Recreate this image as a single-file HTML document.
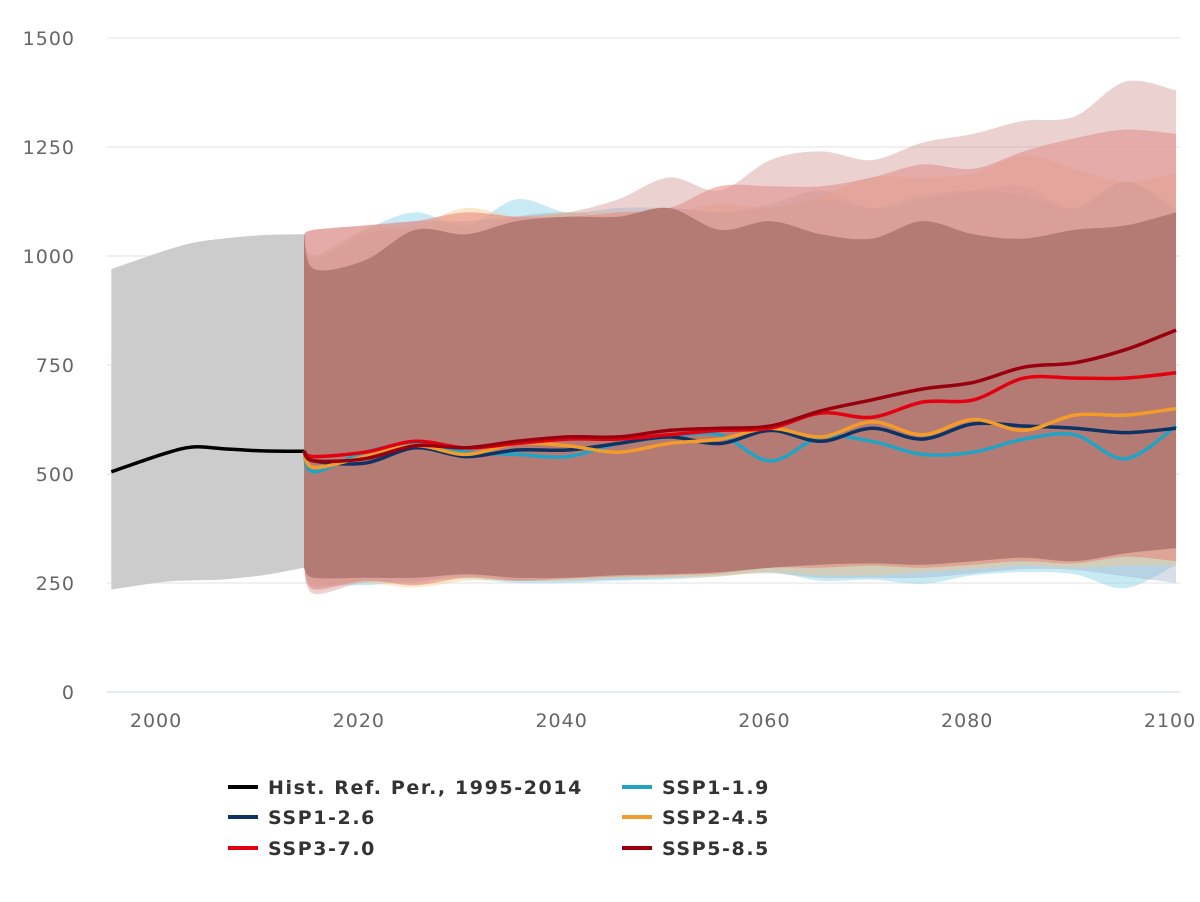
<!DOCTYPE html>
<html><head><meta charset="utf-8"><style>
body{margin:0;background:#fff;font-family:"DejaVu Sans","Liberation Sans",sans-serif}
svg{display:block}
</style></head><body>
<svg id="chart" width="1200" height="902" viewBox="0 0 1200 902" xmlns="http://www.w3.org/2000/svg">
<g id="grid"></g>
<g id="bands"></g>
<g id="lines"></g>
<g id="axes"></g>
<g id="legend"></g>
</svg>
<script>
const histYears=[1995,2000,2003,2006,2010,2014];
const histValues=[505,545,562,558,553,552];
const histUpper=[970,1010,1030,1040,1048,1050];
const histLower=[235,252,256,258,268,285];
const years=[2014,2015,2020,2025,2030,2035,2040,2045,2050,2055,2060,2065,2070,2075,2080,2085,2090,2095,2100];
const ssp119=[552,505,550,570,550,545,540,570,585,590,530,585,575,545,550,580,590,535,610];
const ssp126=[552,530,525,560,540,555,555,570,585,570,600,575,605,580,615,610,605,595,605];
const ssp245=[552,515,540,565,545,570,565,550,570,580,605,585,620,590,625,600,635,635,650];
const ssp370=[552,540,550,575,560,570,580,580,590,600,605,640,630,665,670,720,720,720,732];
const ssp585=[552,530,535,565,560,575,585,585,600,605,610,645,670,695,710,745,755,785,830];
const up119=[1050,1000,1060,1100,1070,1130,1100,1110,1110,1100,1110,1130,1110,1140,1150,1140,1110,1170,1110];
const up126=[1050,990,1050,1060,1050,1090,1100,1090,1110,1100,1120,1150,1110,1130,1150,1160,1110,1170,1100];
const up245=[1050,1000,1060,1070,1110,1090,1100,1100,1100,1120,1110,1140,1180,1180,1190,1230,1200,1170,1190];
const up370=[1050,1060,1070,1080,1100,1090,1090,1100,1110,1160,1160,1160,1180,1210,1200,1240,1270,1290,1280];
const up585=[1050,1060,1070,1080,1080,1090,1100,1130,1180,1150,1220,1240,1220,1260,1280,1310,1320,1400,1380];
const lo119=[285,250,245,255,260,250,250,255,258,265,275,255,258,248,268,275,270,238,292];
const lo126=[285,240,255,255,265,255,255,258,262,268,272,262,262,262,272,282,280,265,250];
const lo245=[285,245,250,240,255,255,255,262,262,265,275,268,268,275,282,290,285,290,290];
const lo370=[285,235,255,245,262,255,260,265,268,272,285,285,290,285,292,300,295,310,300];
const lo585=[285,225,252,250,270,255,262,268,275,285,290,300,300,300,305,315,305,325,330];
const coreUpper=[1050,970,990,1060,1050,1080,1090,1090,1110,1060,1080,1050,1040,1080,1050,1040,1060,1070,1100];
const coreLower=[285,262,262,262,270,262,262,268,270,275,285,292,295,292,300,308,300,318,330];
const yTicks=[0,250,500,750,1000,1250,1500];
const xTicks=[2000,2020,2040,2060,2080,2100];
const NS="http://www.w3.org/2000/svg";
const X=yr=>304+(yr-2014)*10.14;
const Y=v=>692-v*0.436;
function mk(tag,attrs,parent){const e=document.createElementNS(NS,tag);for(const k in attrs)e.setAttribute(k,attrs[k]);parent.appendChild(e);return e;}
function smooth(pts){let d="M"+pts[0][0]+","+pts[0][1];for(let i=0;i<pts.length-1;i++){const p0=pts[Math.max(0,i-1)],p1=pts[i],p2=pts[i+1],p3=pts[Math.min(pts.length-1,i+2)];const c1=[p1[0]+(p2[0]-p0[0])/6,p1[1]+(p2[1]-p0[1])/6],c2=[p2[0]-(p3[0]-p1[0])/6,p2[1]-(p3[1]-p1[1])/6];d+=" C"+c1[0].toFixed(1)+","+c1[1].toFixed(1)+" "+c2[0].toFixed(1)+","+c2[1].toFixed(1)+" "+p2[0].toFixed(1)+","+p2[1].toFixed(1);}return d;}
function pts(xs,vs){return xs.map((x,i)=>[X(x),Y(vs[i])]);}
function bandPath(xs,up,lo){const a=smooth(pts(xs,up));const b=smooth(pts(xs,lo).reverse()).replace(/^M/,"L");return a+" "+b+" Z";}
const grid=document.getElementById('grid'),axes=document.getElementById('axes');
yTicks.forEach(t=>{
 const l=mk('line',{x1:107,x2:1180,y1:Y(t),y2:Y(t),stroke:t===0?'#ccd6eb':'#e0e0e0','stroke-width':1},grid);
 
 const tx=mk('text',{x:75,y:Y(t)+7,'text-anchor':'end','font-size':19,'letter-spacing':1,fill:'#666'},axes);tx.textContent=t;
 
});
xTicks.forEach(t=>{
 const tx=mk('text',{x:X(t)-6,y:727,'text-anchor':'middle','font-size':19,'letter-spacing':1,fill:'#666'},axes);tx.textContent=t;
 
});
const bands=document.getElementById('bands');
let hb=mk('path',{d:bandPath(histYears,histUpper,histLower),fill:'#cccccc'},bands);

const bandDefs=[['band-ssp1-1.9',up119,lo119,'#8fd6ea',0.5],['band-ssp1-2.6',up126,lo126,'#9fb0c8',0.4],['band-ssp2-4.5',up245,lo245,'#f7c98a',0.45],['band-ssp3-7.0',up370,lo370,'#e8847a',0.55],['band-ssp5-8.5',up585,lo585,'#d49a9a',0.45]];
bandDefs.forEach(b=>{const p=mk('path',{d:bandPath(years,b[1],b[2]),fill:b[3],'fill-opacity':b[4]},bands);
 });
let cb=mk('path',{d:bandPath(years,coreUpper,coreLower),fill:'#b47b74'},bands);

const lines=document.getElementById('lines');
let hl=mk('path',{d:smooth(pts(histYears,histValues)),fill:'none',stroke:'#000','stroke-width':3.5},lines);

const series=[['line-ssp1-1.9',ssp119,'#1fa3c6'],['line-ssp1-2.6',ssp126,'#0d3263'],['line-ssp2-4.5',ssp245,'#f39c2a'],['line-ssp3-7.0',ssp370,'#e3000f'],['line-ssp5-8.5',ssp585,'#98000f']];
series.forEach(s=>{const p=mk('path',{d:smooth(pts(years,s[1])),fill:'none',stroke:s[2],'stroke-width':3.5},lines);
 });
const legendItems=[['Hist. Ref. Per., 1995-2014','#000',228,787],['SSP1-1.9','#1fa3c6',622,787],['SSP1-2.6','#0d3263',228,817],['SSP2-4.5','#f39c2a',622,817],['SSP3-7.0','#e3000f',228,848],['SSP5-8.5','#98000f',622,848]];
const lg=document.getElementById('legend');
legendItems.forEach(it=>{const g=mk('g',{},lg);
 
 mk('line',{x1:it[2],x2:it[2]+30,y1:it[3],y2:it[3],stroke:it[1],'stroke-width':4},g);
 const t=mk('text',{x:it[2]+40,y:it[3]+7,'font-size':19,'font-weight':'bold','letter-spacing':1.6,fill:'#333'},g);t.textContent=it[0];});
</script>
</body></html>
